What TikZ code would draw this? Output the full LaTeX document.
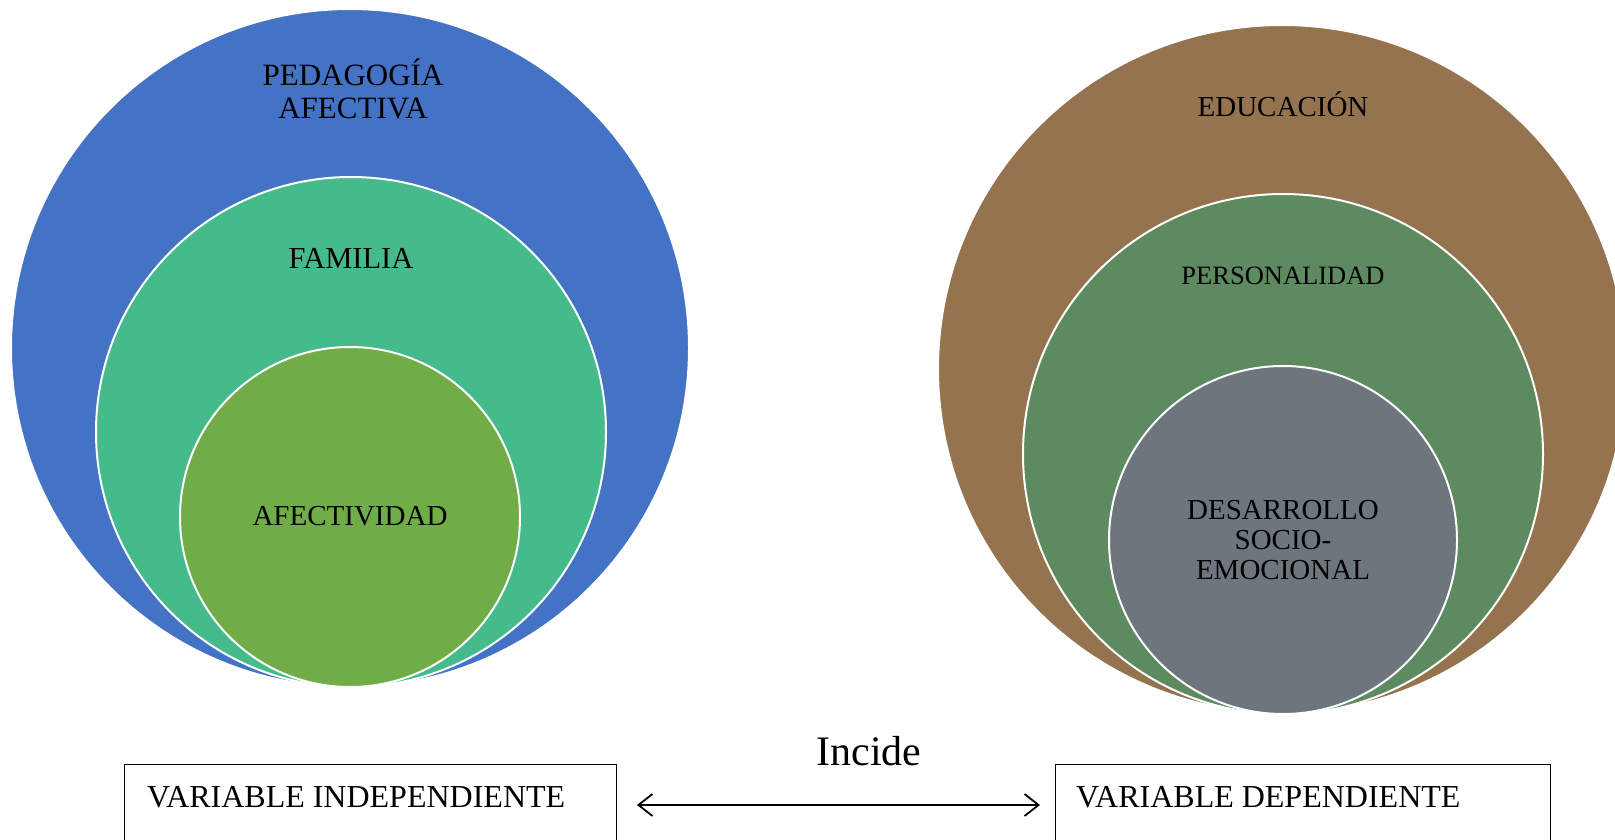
\documentclass[tikz,border=0pt]{standalone}
\usepackage{fontspec}
\setmainfont{Liberation Serif}
\usetikzlibrary{arrows.meta}
\definecolor{cblue}{HTML}{4472C4}
\definecolor{cteal}{HTML}{45BB8C}
\definecolor{cgreen}{HTML}{70AD47}
\definecolor{cbrown}{HTML}{94734E}
\definecolor{cdgreen}{HTML}{5E8A60}
\definecolor{cgray}{HTML}{6D757D}
\tikzset{
  ring/.style={circle, draw=white, line width=2pt, inner sep=0pt, minimum size=#1},
  lbl/.style={anchor=base, align=center, inner sep=0pt, text=black},
  varbox/.style={draw=black, line width=1pt},
}
\begin{document}
\begin{tikzpicture}[x=1pt,y=-1pt]
\useasboundingbox (0,0) rectangle (1615,840);
\clip (0,0) rectangle (1615,840);
% left set
\node[ring=678pt, fill=cblue] (pedo) at (350,348) {};
\node[ring=510pt, fill=cteal] (fam) at (351,432) {};
\node[ring=340pt, fill=cgreen] (afe) at (350,517) {};
\node[lbl, font=\fontsize{31}{33}\selectfont] (tpedo) at (353,119) {PEDAGOGÍA\\AFECTIVA};
\node[lbl, font=\fontsize{30.5}{33}\selectfont] (tfam) at (351,268) {FAMILIA};
\node[lbl, font=\fontsize{29}{31}\selectfont] (tafe) at (350,525) {AFECTIVIDAD};
% right set
\node[ring=688pt, fill=cbrown] (edu) at (1282,369) {};
\node[ring=520pt, fill=cdgreen] (per) at (1283,454) {};
\node[ring=348pt, fill=cgray] (des) at (1283,540) {};
\node[lbl, font=\fontsize{29}{31}\selectfont] (tedu) at (1283,117) {EDUCACIÓN};
\node[lbl, font=\fontsize{26.5}{28}\selectfont] (tper) at (1283,284) {PERSONALIDAD};
\node[lbl, font=\fontsize{29}{30}\selectfont] (tdes) at (1283,579) {DESARROLLO\\SOCIO-\\EMOCIONAL};
% boxes
\node[varbox, minimum width=492pt, minimum height=120pt, anchor=north west] (vi) at (124,764) {};
\node[varbox, minimum width=495pt, minimum height=120pt, anchor=north west] (vd) at (1055,764) {};
\node[lbl, anchor=base west, font=\fontsize{32}{34}\selectfont] (tvi) at (147,807) {VARIABLE INDEPENDIENTE};
\node[lbl, anchor=base west, font=\fontsize{32}{34}\selectfont] (tvd) at (1076,807) {VARIABLE DEPENDIENTE};
% arrow
\coordinate (al) at (637,805);
\coordinate (ar) at (1040,805);
\draw[line width=2.2pt, {Straight Barb[length=14pt,width=22pt,line width=1.8pt]}-{Straight Barb[length=14pt,width=22pt,line width=1.8pt]}] (al) -- (ar);
\node[lbl, font=\fontsize{42}{44}\selectfont] (inc) at (869,765) {Incide};
\end{tikzpicture}
\end{document}
